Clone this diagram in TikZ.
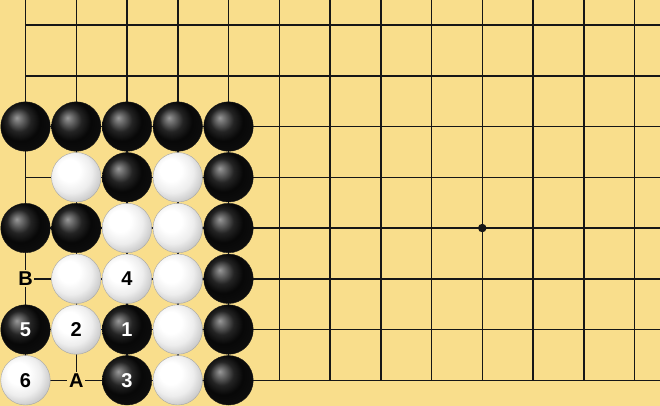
\documentclass[tikz,border=0pt]{standalone}
\usepackage{fontspec}
\newfontfamily\labfont{Liberation Sans}
\definecolor{board}{RGB}{249,222,140}
\definecolor{gridc}{RGB}{22,22,22}
\pgfdeclareradialshading{bstoneshade}{\pgfpoint{-9bp}{9bp}}{color(0bp)=(black!40); color(3bp)=(black!52); color(12bp)=(black!86); color(20bp)=(black!97); color(29bp)=(black!95); color(37bp)=(black!74); color(50bp)=(black!74)}
\pgfdeclareradialshading{wstoneshade}{\pgfpoint{-9bp}{9bp}}{color(0bp)=(white); color(11bp)=(white); color(21bp)=(black!7); color(30bp)=(black!22); color(37bp)=(black!42); color(50bp)=(black!45)}
\begin{document}
\begin{tikzpicture}[x=50.75pt,y=50.75pt,
  stone/.style={circle,inner sep=0pt,minimum size=49.5pt,line width=0.4pt,
    font=\labfont\bfseries\fontsize{20}{20}\selectfont},
  bst/.style={stone,shading=bstoneshade,draw=black!90,text=white},
  wst/.style={stone,shading=wstoneshade,draw=black!35,text=black},
  lab/.style={fill=board,inner sep=1.6pt,text=black,
    font=\labfont\bfseries\fontsize{20}{20}\selectfont},
  gridline/.style={draw=gridc,line width=1.5pt},
  starpt/.style={circle,fill=gridc,inner sep=0pt,minimum size=8.5pt}]
\fill[board] (-0.5025,-0.5064) rectangle (12.5025,7.4936);
\useasboundingbox (-0.5025,-0.5064) rectangle (12.5025,7.4936);
% grid
\foreach \i in {0,...,12} \draw[gridline] (\i,0) -- (\i,7.4936);
\foreach \j in {0,...,7} \draw[gridline] (0,\j) -- (12.5025,\j);
\draw[gridline,line cap=rect] (0,7.4936) -- (0,0) -- (12.5025,0);
\node[starpt] (hoshi) at (9,3) {};
% labels
\node[lab] (A) at (1,0) {A};
\node[lab] (B) at (0,2) {B};
% row 5
\node[bst] (s05) at (0,5) {};
\node[bst] (s15) at (1,5) {};
\node[bst] (s25) at (2,5) {};
\node[bst] (s35) at (3,5) {};
\node[bst] (s45) at (4,5) {};
% row 4
\node[wst] (s14) at (1,4) {};
\node[bst] (s24) at (2,4) {};
\node[wst] (s34) at (3,4) {};
\node[bst] (s44) at (4,4) {};
% row 3
\node[bst] (s03) at (0,3) {};
\node[bst] (s13) at (1,3) {};
\node[wst] (s23) at (2,3) {};
\node[wst] (s33) at (3,3) {};
\node[bst] (s43) at (4,3) {};
% row 2
\node[wst] (s12) at (1,2) {};
\node[wst] (s22) at (2,2) {4};
\node[wst] (s32) at (3,2) {};
\node[bst] (s42) at (4,2) {};
% row 1
\node[bst] (s01) at (0,1) {5};
\node[wst] (s11) at (1,1) {2};
\node[bst] (s21) at (2,1) {1};
\node[wst] (s31) at (3,1) {};
\node[bst] (s41) at (4,1) {};
% row 0
\node[wst] (s00) at (0,0) {6};
\node[bst] (s20) at (2,0) {3};
\node[wst] (s30) at (3,0) {};
\node[bst] (s40) at (4,0) {};
\end{tikzpicture}
\end{document}
